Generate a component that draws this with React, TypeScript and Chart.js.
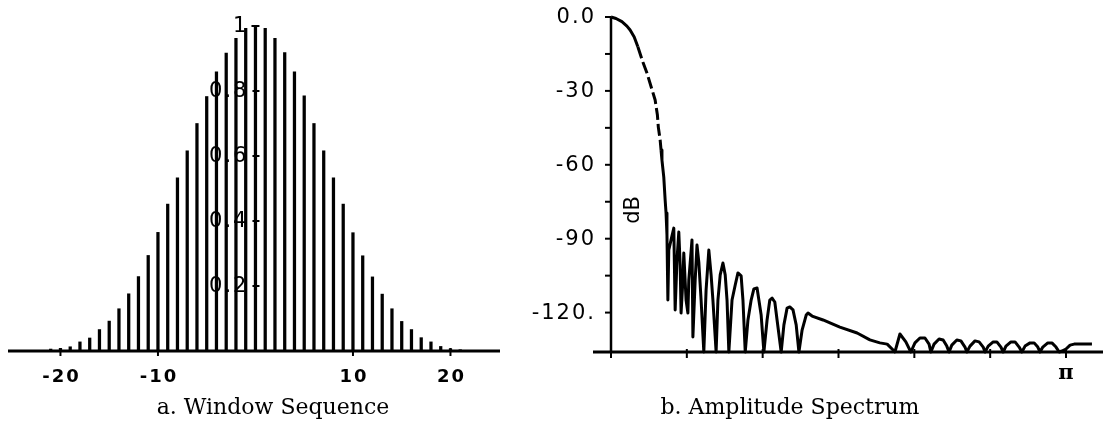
import React, { useEffect, useRef } from "react";
import { Chart, registerables } from "chart.js";

Chart.register(...registerables);

// ---------- Panel a: window sequence ----------
const windowIndex = [
  -21, -20, -19, -18, -17, -16, -15, -14, -13, -12, -11, -10, -9, -8, -7, -6, -5, -4, -3, -2, -1,
  0,
  1, 2, 3, 4, 5, 6, 7, 8, 9, 10, 11, 12, 13, 14, 15, 16, 17, 18, 19, 20, 21,
];
const windowValues = [
  0.006, 0.008, 0.013, 0.028, 0.04, 0.066, 0.092, 0.13, 0.176, 0.229, 0.294, 0.365, 0.452, 0.533,
  0.616, 0.7, 0.783, 0.859, 0.917, 0.962, 0.993,
  1.0,
  0.993, 0.962, 0.918, 0.859, 0.785, 0.7, 0.616, 0.533, 0.452, 0.364, 0.293, 0.228, 0.175, 0.13,
  0.091, 0.066, 0.041, 0.028, 0.014, 0.007, 0.004,
];
const windowXTicks = [-20, -10, 10, 20];
const windowXTickLabels = ["-20", "-10", "10", "20"];
const windowYTicks = [0.2, 0.4, 0.6, 0.8, 1];
const windowYTickLabels = ["0.2", "0.4", "0.6", "0.8", "1"];
const captionA = "a. Window Sequence";

// ---------- Panel b: amplitude spectrum (frequency in units of π, dB) ----------
const spectrumFreq = [
  0, 0.011, 0.024, 0.035, 0.042, 0.051, 0.059, 0.07, 0.079, 0.089, 0.097, 0.102, 0.104, 0.108, 0.11,
  0.112, 0.116, 0.119, 0.121, 0.123, 0.125, 0.127, 0.132, 0.138, 0.141, 0.145, 0.149, 0.152, 0.154, 0.158,
  0.16, 0.165, 0.169, 0.171, 0.178, 0.18, 0.185, 0.189, 0.193, 0.198, 0.204, 0.209, 0.215, 0.22, 0.224,
  0.231, 0.235, 0.24, 0.246, 0.251, 0.255, 0.259, 0.266, 0.273, 0.279, 0.286, 0.29, 0.295, 0.301, 0.308,
  0.314, 0.321, 0.325, 0.33, 0.336, 0.343, 0.349, 0.354, 0.36, 0.365, 0.374, 0.38, 0.387, 0.393, 0.4,
  0.407, 0.413, 0.42, 0.429, 0.433, 0.442, 0.466, 0.503, 0.541, 0.569, 0.591, 0.607, 0.62, 0.624, 0.635,
  0.648, 0.659, 0.668, 0.679, 0.69, 0.699, 0.703, 0.71, 0.721, 0.73, 0.738, 0.743, 0.749, 0.76, 0.769,
  0.778, 0.782, 0.789, 0.8, 0.809, 0.818, 0.822, 0.829, 0.84, 0.848, 0.857, 0.862, 0.868, 0.879, 0.888,
  0.897, 0.903, 0.91, 0.921, 0.93, 0.938, 0.943, 0.949, 0.96, 0.969, 0.978, 0.985, 0.991, 1.0, 1.009,
  1.018, 1.057,
];
const spectrumDb = [
  0, -0.6, -1.9, -3.7, -5.3, -8.1, -12.1, -18.3, -22.7, -28.8, -33.7, -39.8, -44.7, -49.9, -54.0,
  -58.1, -65.0, -74.3, -79.6, -88.5, -114.9, -94.6, -90.5, -85.7, -118.9, -98.7, -87.3, -100.7, -120.2, -106.8,
  -95.8, -114.9, -120.2, -106.8, -90.5, -129.9, -106.8, -92.6, -99.5, -114.9, -136, -110.8, -94.6, -104.7, -114.9,
  -136, -114.9, -104.7, -99.9, -104.7, -114.9, -136, -114.9, -108.8, -103.9, -105.1, -114.9, -136, -123.0, -114.9,
  -110.4, -110.0, -114.9, -121.0, -136, -123.0, -114.9, -114.1, -115.7, -123.0, -136, -125.0, -118.2, -117.7, -118.9,
  -125.0, -136, -127.1, -121.0, -120.2, -121.4, -123.0, -125.9, -128.3, -131.1, -132.3, -132.8, -135.2, -136, -128.7,
  -131.9, -136, -132.3, -130.3, -130.3, -132.8, -136, -132.8, -130.7, -131.1, -133.6, -136, -133.2, -131.1, -131.5,
  -134.0, -136, -133.6, -131.5, -131.9, -134.0, -136, -133.6, -131.9, -131.9, -134.0, -136, -133.6, -131.9, -131.9,
  -134.0, -136, -133.6, -132.3, -132.3, -134.0, -136, -134.0, -132.3, -132.3, -134.0, -136, -135.6, -134.8, -133.2,
  -132.8, -132.8,
];
const spectrumDashFrom = 6;
const spectrumDashTo = 14;
const spectrumYTicks = [0, -15, -30, -45, -60, -75, -90, -105, -120];
const spectrumYTickLabels = ["0.0", "", "-30", "", "-60", "", "-90", "", "-120."];
const spectrumXTicks = [0, 1 / 6, 2 / 6, 3 / 6, 4 / 6, 5 / 6, 1];
const spectrumXTickLabels = ["", "", "", "", "", "", "π"];
const spectrumYTitle = "dB";
const captionB = "b. Amplitude Spectrum";

const W = 1103;
const H = 421;
const INK = "#000";

const windowAxes = {
  id: "windowAxes",
  beforeDatasetsDraw(chart: any) {
    const { ctx, chartArea, scales } = chart;
    const x = scales.x;
    const y = scales.y;
    const x0 = x.getPixelForValue(0);
    const y0 = y.getPixelForValue(0);
    const yTop = y.getPixelForValue(1);
    ctx.save();
    ctx.strokeStyle = INK;
    ctx.fillStyle = INK;
    ctx.lineCap = "butt";
    // x axis
    ctx.lineWidth = 3;
    ctx.beginPath();
    ctx.moveTo(chartArea.left, y0);
    ctx.lineTo(chartArea.right, y0);
    ctx.stroke();
    // y axis
    ctx.lineWidth = 2.5;
    ctx.beginPath();
    ctx.moveTo(x0, y0);
    ctx.lineTo(x0, yTop);
    ctx.stroke();
    ctx.lineWidth = 2;
    ctx.beginPath();
    ctx.moveTo(x0 - 4, yTop);
    ctx.lineTo(x0 + 4, yTop);
    ctx.stroke();
    // y ticks
    windowYTicks.forEach((v) => {
      if (v === 1) return;
      const py = y.getPixelForValue(v);
      ctx.beginPath();
      ctx.moveTo(x0 - 3, py);
      ctx.lineTo(x0 + 4, py);
      ctx.stroke();
    });
    // x ticks
    windowXTicks.forEach((v) => {
      const px = x.getPixelForValue(v);
      ctx.beginPath();
      ctx.moveTo(px, y0 - 3);
      ctx.lineTo(px, y0 + 5);
      ctx.stroke();
    });
    // y labels
    ctx.font = "21px 'DejaVu Sans'";
    (ctx as any).letterSpacing = "2px";
    ctx.textAlign = "right";
    ctx.textBaseline = "middle";
    windowYTicks.forEach((v, i) => {
      ctx.fillText(windowYTickLabels[i], x0 - 7, y.getPixelForValue(v) + 1);
    });
    // x labels
    ctx.font = "bold 18px 'DejaVu Sans'";
    ctx.textAlign = "center";
    ctx.textBaseline = "alphabetic";
    windowXTicks.forEach((v, i) => {
      ctx.fillText(windowXTickLabels[i], x.getPixelForValue(v) + 1, y0 + 31);
    });
    (ctx as any).letterSpacing = "0px";
    // caption
    ctx.font = "22px 'DejaVu Serif'";
    ctx.fillText(captionA, 273, 414);
    ctx.restore();
  },
};

const spectrumAxes = {
  id: "spectrumAxes",
  beforeDatasetsDraw(chart: any) {
    const { ctx, chartArea, scales } = chart;
    const x = scales.x;
    const y = scales.y;
    const ax = x.getPixelForValue(0);
    const ay = y.getPixelForValue(y.min);
    const yTop = y.getPixelForValue(0);
    ctx.save();
    ctx.strokeStyle = INK;
    ctx.fillStyle = INK;
    ctx.lineWidth = 2.5;
    // axes
    ctx.beginPath();
    ctx.moveTo(ax, yTop);
    ctx.lineTo(ax, ay);
    ctx.stroke();
    ctx.lineWidth = 3;
    ctx.beginPath();
    ctx.moveTo(ax - 18, ay);
    ctx.lineTo(chartArea.right, ay);
    ctx.stroke();
    // y ticks
    ctx.lineWidth = 2;
    spectrumYTicks.forEach((v) => {
      const py = y.getPixelForValue(v);
      ctx.beginPath();
      ctx.moveTo(ax - 6, py);
      ctx.lineTo(ax, py);
      ctx.stroke();
    });
    // x ticks
    spectrumXTicks.forEach((v) => {
      const px = x.getPixelForValue(v);
      ctx.beginPath();
      ctx.moveTo(px, ay - 3);
      ctx.lineTo(px, ay + 6);
      ctx.stroke();
    });
    // y labels
    ctx.font = "21px 'DejaVu Sans'";
    (ctx as any).letterSpacing = "2px";
    ctx.textAlign = "right";
    ctx.textBaseline = "middle";
    spectrumYTicks.forEach((v, i) => {
      const lbl = spectrumYTickLabels[i];
      if (lbl) ctx.fillText(lbl, ax - 15, y.getPixelForValue(v) + 1);
    });
    (ctx as any).letterSpacing = "0px";
    // x labels
    ctx.font = "bold 21px 'DejaVu Serif'";
    ctx.textAlign = "center";
    ctx.textBaseline = "alphabetic";
    spectrumXTicks.forEach((v, i) => {
      const lbl = spectrumXTickLabels[i];
      if (lbl) ctx.fillText(lbl, x.getPixelForValue(v), ay + 27);
    });
    // dB title
    ctx.save();
    ctx.font = "21px 'DejaVu Sans'";
    ctx.translate(ax + 23, 210);
    ctx.rotate(-Math.PI / 2);
    ctx.textAlign = "center";
    ctx.textBaseline = "middle";
    ctx.fillText(spectrumYTitle, 0, 0);
    ctx.restore();
    // caption
    ctx.font = "22px 'DejaVu Serif'";
    ctx.textAlign = "center";
    ctx.fillText(captionB, 790, 414);
    ctx.restore();
  },
};

export default function App() {
  const refA = useRef<HTMLCanvasElement | null>(null);
  const refB = useRef<HTMLCanvasElement | null>(null);

  useEffect(() => {
    const chartA = new Chart(refA.current as HTMLCanvasElement, {
      type: "bar",
      data: {
        datasets: [
          {
            data: windowIndex.map((n, i) => ({ x: n, y: windowValues[i] })),
            backgroundColor: INK,
            borderWidth: 0,
            barThickness: 2.6,
            clip: false,
          } as any,
        ],
      },
      options: {
        responsive: false,
        animation: false,
        events: [],
        layout: { padding: { left: 8, right: W - 500, top: 26, bottom: H - 351 } },
        scales: {
          x: { type: "linear", display: false, offset: false, min: -25.38, max: 25.08 },
          y: { type: "linear", display: false, min: 0, max: 1 },
        },
        plugins: { legend: { display: false }, tooltip: { enabled: false } },
      },
      plugins: [windowAxes],
    });

    const chartB = new Chart(refB.current as HTMLCanvasElement, {
      type: "line",
      data: {
        datasets: [
          {
            data: spectrumFreq.map((f, i) => ({ x: f, y: spectrumDb[i] })),
            borderColor: INK,
            borderWidth: 3,
            pointRadius: 0,
            tension: 0,
            fill: false,
            clip: false,
            borderJoinStyle: "round",
            segment: {
              borderDash: (c: any) =>
                c.p0DataIndex >= spectrumDashFrom && c.p0DataIndex < spectrumDashTo ? [12, 4] : undefined,
            },
          } as any,
        ],
      },
      options: {
        responsive: false,
        animation: false,
        events: [],
        layout: { padding: { left: 611, right: 0, top: 17, bottom: H - 352 } },
        scales: {
          x: { type: "linear", display: false, min: 0, max: 1.0813 },
          y: { type: "linear", display: false, min: -136, max: 0 },
        },
        plugins: { legend: { display: false }, tooltip: { enabled: false } },
      },
      plugins: [spectrumAxes],
    });

    return () => {
      chartA.destroy();
      chartB.destroy();
    };
  }, []);

  return (
    <div style={{ position: "fixed", left: 0, top: 0, width: W, height: H, background: "#fff" }}>
      <canvas ref={refA} width={W} height={H} style={{ position: "absolute", left: 0, top: 0 }} />
      <canvas ref={refB} width={W} height={H} style={{ position: "absolute", left: 0, top: 0 }} />
    </div>
  );
}
